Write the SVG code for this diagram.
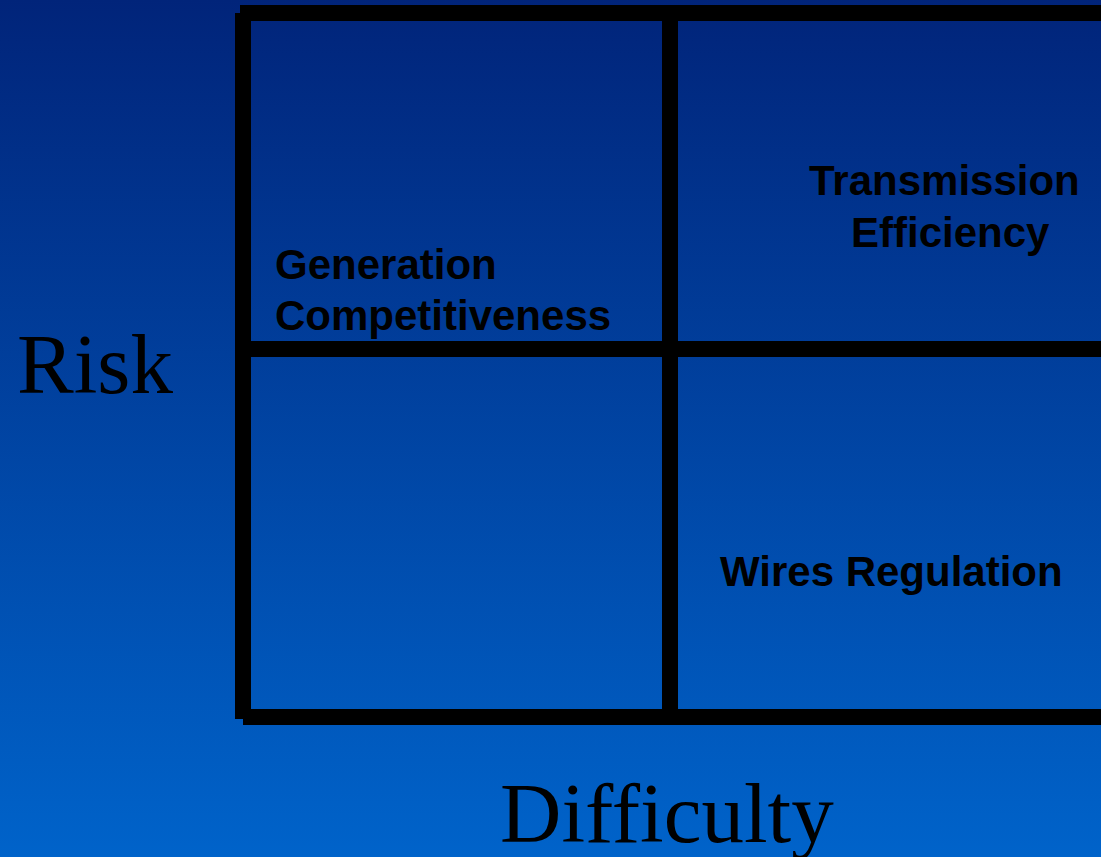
<svg xmlns="http://www.w3.org/2000/svg" width="1101" height="857" viewBox="0 0 1101 857">
  <defs>
    <linearGradient id="bg" x1="0" y1="0" x2="0" y2="1">
      <stop offset="0" stop-color="#01247a"/>
      <stop offset="1" stop-color="#0063ca"/>
    </linearGradient>
  </defs>
  <style>
    .grid line { stroke: #000; stroke-width: 16; stroke-linecap: butt; }
    .lbl { font-family: "Liberation Sans", Arial, sans-serif; font-weight: bold; font-size: 42px; fill: #000; }
    .axis { font-family: "Liberation Serif", "Times New Roman", serif; font-size: 85px; fill: #000; }
  </style>
  <rect x="0" y="0" width="1101" height="857" fill="url(#bg)"/>
  <g id="connectors" class="grid">
    <line x1="240" y1="13" x2="1101" y2="13"/>
    <line x1="243" y1="13" x2="243" y2="719"/>
    <line x1="243" y1="717" x2="1101" y2="717"/>
    <line x1="670" y1="13" x2="670" y2="717"/>
    <line x1="243" y1="349" x2="1101" y2="349"/>
  </g>
  <g id="axis-risk"><text class="axis" x="17" y="393">Risk</text></g>
  <g id="axis-difficulty"><text class="axis" x="500" y="842">Difficulty</text></g>
  <g id="generation"><text class="lbl" x="275" y="279">Generation</text><text class="lbl" x="275" y="330">Competitiveness</text></g>
  <g id="transmission"><text class="lbl" x="809" y="195">Transmission</text><text class="lbl" x="851" y="247">Efficiency</text></g>
  <g id="wires"><text class="lbl" x="720" y="586">Wires Regulation</text></g>
</svg>
